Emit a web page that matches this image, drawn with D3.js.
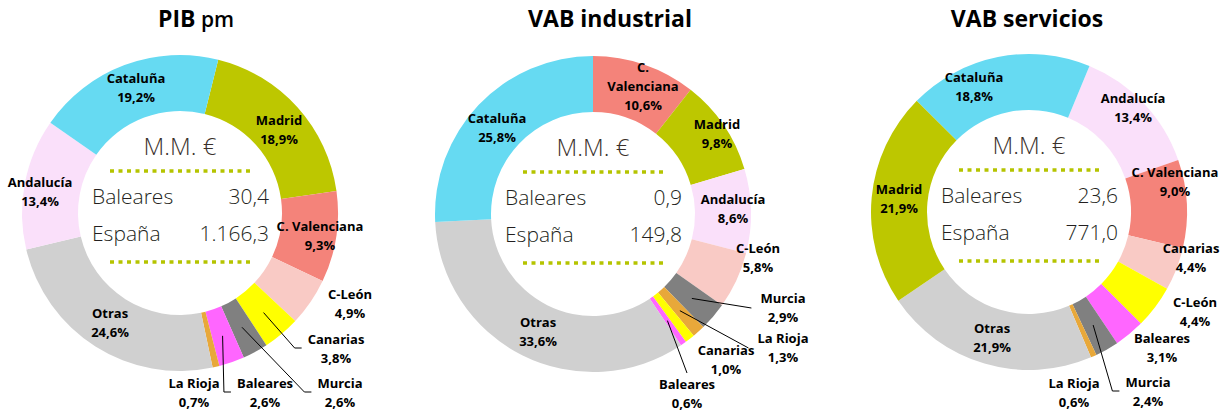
<!DOCTYPE html>
<html><head><meta charset="utf-8">
<script src="https://cdn.jsdelivr.net/npm/d3@7"></script>
<style>body{margin:0;background:#fff} svg{display:block}</style>
</head><body><svg id="c" width="1226" height="418"></svg>
<script>
// ---- data ----
const chartTitles = [["PIB", " pm"], ["VAB industrial", ""], ["VAB servicios", ""]];
const pibRegions = ["Madrid","C. Valenciana","C-León","Canarias","Murcia","Baleares","La Rioja","Otras","Andalucía","Cataluña"];
const pibValues  = [18.9, 9.3, 4.9, 3.8, 2.6, 2.6, 0.7, 24.6, 13.4, 19.2];
const indRegions = ["C. Valenciana","Madrid","Andalucía","C-León","Murcia","La Rioja","Canarias","Baleares","Otras","Cataluña"];
const indValues  = [10.6, 9.8, 8.6, 5.8, 2.9, 1.3, 1.0, 0.6, 33.6, 25.8];
const serRegions = ["Andalucía","C. Valenciana","Canarias","C-León","Baleares","Murcia","La Rioja","Otras","Madrid","Cataluña"];
const serValues  = [13.4, 9.0, 4.4, 4.4, 3.1, 2.4, 0.6, 21.9, 21.9, 18.8];
const centerUnit = "M.M. €";
const centerRows = ["Baleares", "España"];
const balearesTotals = ["30,4", "0,9", "23,6"];
const espanaTotals = ["1.166,3", "149,8", "771,0"];

// ---- styles ----
const palette = {
  "Cataluña": "#66daf2", "Madrid": "#bdc700", "C. Valenciana": "#f4837a",
  "C-León": "#f9cac5", "Canarias": "#ffff00", "Murcia": "#808080",
  "Baleares": "#ff66ff", "La Rioja": "#e8a83a", "Otras": "#d0d0d0",
  "Andalucía": "#fae0fa"
};
const paletteSwap = [{}, {}, {"Canarias": "#f9cac5", "C-León": "#ffff00"}];

// ---- layout ----
const centers = [[180, 213], [593, 214], [1029, 212]];
const titleX = [196, 610, 1027];
const startDeg = [14, 0, 22.5];
const rIn = 102, rOut = 158;
const labelLayout = [
  { "Madrid":[99,-88], "C. Valenciana":[140,18], "C-León":[170,86],
    "Canarias":[156,131,"elbow"], "Murcia":[160,175,"elbow"], "Baleares":[85,175,"elbow"],
    "La Rioja":[14,175], "Otras":[-70,105], "Andalucía":[-140,-26], "Cataluña":[-44,-130] },
  { "C. Valenciana":[50,-142], "Madrid":[124,-85], "Andalucía":[140,-10], "C-León":[165,39],
    "Murcia":[190,89,"left"], "La Rioja":[190,129,"left"], "Canarias":[133,141],
    "Baleares":[94,175,"top"], "Otras":[-55,113], "Cataluña":[-96,-91] },
  { "Andalucía":[104,-109], "C. Valenciana":[146,-35], "Canarias":[162,41], "C-León":[166,95],
    "Baleares":[133,131], "Murcia":[119,175,"elbow"], "La Rioja":[45,176],
    "Otras":[-37,121], "Madrid":[-130,-18], "Cataluña":[-55,-130] }
];
const lineH = 19;

const svg = d3.select("#c");
const fmt = v => d3.format(".1f")(v).replace(".", ",") + "%";
const datasets = [[pibRegions, pibValues], [indRegions, indValues], [serRegions, serValues]];
const arc = d3.arc().innerRadius(rIn).outerRadius(rOut);
const midArc = d3.arc().innerRadius(130).outerRadius(130);

datasets.forEach(([regions, values], ci) => {
  const [cx, cy] = centers[ci];
  const data = regions.map((r, i) => ({ r, v: values[i] }));
  const sa = startDeg[ci] * Math.PI / 180;
  const pie = d3.pie().sort(null).value(d => d.v).startAngle(sa).endAngle(sa + 2 * Math.PI);
  const arcs = pie(data);
  const colorOf = r => paletteSwap[ci][r] || palette[r];

  // title
  const t = svg.append("text").attr("x", titleX[ci]).attr("y", 27)
    .attr("text-anchor", "middle").attr("font-family", "Open Sans, sans-serif")
    .attr("font-size", 23).attr("font-weight", 700).attr("fill", "#000");
  t.append("tspan").text(chartTitles[ci][0]);
  if (chartTitles[ci][1]) t.append("tspan").attr("font-weight", 600).attr("font-size", 21).text(chartTitles[ci][1]);

  const g = svg.append("g").attr("transform", `translate(${cx},${cy})`);
  g.selectAll("path.slice").data(arcs).join("path").attr("class", "slice")
    .attr("d", arc).attr("fill", d => colorOf(d.data.r));

  // center text
  const light = { "font-family": "Open Sans, sans-serif", "font-weight": 350, fill: "#231f20" };
  const applyStyle = (sel, st) => { Object.entries(st).forEach(([k, v]) => sel.attr(k, v)); return sel; };
  applyStyle(g.append("text"), light).attr("x", 0).attr("y", -58).attr("text-anchor", "middle")
    .attr("font-size", 24).attr("fill", "#3a302b").text(centerUnit);
  [-42, 49].forEach(yy => {
    g.append("line").attr("x1", -70).attr("x2", 71).attr("y1", yy).attr("y2", yy)
      .attr("stroke", "#b5c400").attr("stroke-width", 3.5).attr("stroke-dasharray", "4 4.5");
  });
  const totals = [balearesTotals[ci], espanaTotals[ci]];
  centerRows.forEach((name, i) => {
    const yy = -9 + i * 37;
    applyStyle(g.append("text"), light).attr("x", -88).attr("y", yy).attr("font-size", 21).text(name);
    applyStyle(g.append("text"), light).attr("x", 89).attr("y", yy).attr("text-anchor", "end")
      .attr("font-size", 21).text(totals[i]);
  });

  // labels
  arcs.forEach(a => {
    const lay = labelLayout[ci][a.data.r];
    if (!lay) return;
    const [dx, dy, leader] = lay;
    let nameLines = [a.data.r];
    if (ci === 1 && a.data.r === "C. Valenciana") nameLines = ["C.", "Valenciana"];
    const lines = nameLines.concat([fmt(a.data.v)]);
    const txt = g.append("text").attr("text-anchor", "middle")
      .attr("font-family", "Open Sans, sans-serif").attr("font-weight", 700)
      .attr("font-size", 13).attr("fill", "#000");
    lines.forEach((l, i) => txt.append("tspan").attr("x", dx).attr("y", dy + i * lineH).text(l));
    if (leader) {
      const bb = txt.node().getBBox();
      const left = bb.x;
      const [sx, sy] = midArc.centroid(a);
      let pts;
      if (leader === "elbow") pts = [[sx, sy], [left - 13, dy + 4], [left - 6, dy + 4]];
      else if (leader === "left") pts = [[sx, sy], [left - 9, dy + 5]];
      else pts = [[sx, sy], [dx, dy - 16]];
      g.append("path").attr("d", d3.line()(pts)).attr("fill", "none")
        .attr("stroke", "#000").attr("stroke-width", 1);
    }
  });
});
</script></body></html>
